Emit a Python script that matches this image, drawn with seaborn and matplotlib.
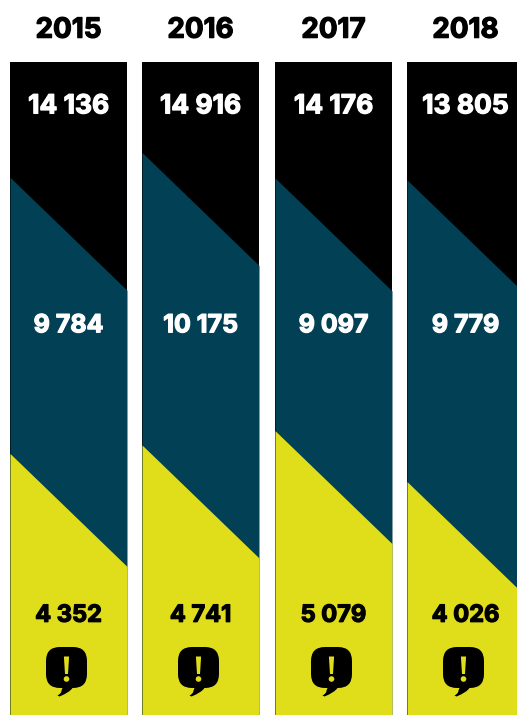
import numpy as np
import pandas as pd
import seaborn as sns
import matplotlib
matplotlib.use("Agg")
import matplotlib.pyplot as plt
import matplotlib.patheffects as pe
from matplotlib.path import Path
from matplotlib.patches import PathPatch
from matplotlib.transforms import Affine2D

years = ["2015", "2016", "2017", "2018"]
band_names = ["upper", "middle", "lower"]

# Figures printed on each band
upper_values = [14136, 14916, 14176, 13805]
middle_values = [9784, 10175, 9097, 9779]
lower_values = [4352, 4741, 5079, 4026]

# Height of each band along the column's centre line, in percent of the column
upper_share = [26.3, 22.5, 26.4, 26.7]
middle_share = [42.3, 44.8, 38.7, 46.2]
lower_share = [31.4, 32.7, 34.9, 27.1]

BAND_COLORS = {"upper": "#000000", "middle": "#014055", "lower": "#e0de1a"}
TEXT_COLORS = {"upper": "white", "middle": "white", "lower": "black"}
LABEL_Y = {"upper": 6.8, "middle": 40.4, "lower": 84.8}
LABEL_SIZE = {"upper": 19, "middle": 18, "lower": 17}
SLANT = 17.3  # drop of a band edge across one column, in percent

W, H = 517, 715
COL_LEFT = [10, 142, 275, 407]
COL_WIDTH = 117
COL_TOP, COL_BOTTOM = 62, 715
FONT = "Inter"

sns.set_theme(style="white")
plt.rcParams["font.family"] = [FONT, "DejaVu Sans"]


frame = pd.DataFrame({
    "year": np.repeat(years, 3),
    "band": band_names * 4,
    "share": np.ravel(np.column_stack([upper_share, middle_share, lower_share])),
    "value": np.ravel(np.column_stack([upper_values, middle_values, lower_values])),
})


def group_digits(n):
    return f"{n:,}".replace(",", " ")


def heavy(color, width=0.9):
    return [pe.withStroke(linewidth=width, foreground=color)]


def draw_column(data, **kwargs):
    ax = plt.gca()
    xs = np.array([-0.5, 0.5])
    edges = np.r_[0, np.cumsum(data["share"].to_numpy())]
    for i, row in enumerate(data.itertuples()):
        # Each band runs down to the foot of the column; the next one paints over it
        top = np.zeros(2) if i == 0 else edges[i] + SLANT * xs
        ax.fill_between(xs, top, np.full(2, 100.0), color=BAND_COLORS[row.band], lw=0)
        color = TEXT_COLORS[row.band]
        ax.text(0.0, LABEL_Y[row.band], group_digits(row.value), ha="center",
                va="center", color=color, fontsize=LABEL_SIZE[row.band],
                fontweight="bold", path_effects=heavy(color), zorder=4)


def add_badge(fig, cx, cy):
    """Speech bubble with an exclamation mark, sized in pixels around (cx, cy)."""
    to_px = Affine2D().scale(1, -1).translate(cx, H - cy)
    r = 14
    hw, hh = 20.5, 20.5
    verts = [(-hw + r, -hh), (hw - r, -hh), (hw, -hh), (hw, -hh + r),
             (hw, hh - r), (hw, hh), (hw - r, hh), (6, hh),
             (3, 25), (-7, 29), (-9, 28), (-5, 26), (-5, 23), (-4, hh),
             (-hw + r, hh), (-hw, hh), (-hw, hh - r),
             (-hw, -hh + r), (-hw, -hh), (-hw + r, -hh), (-hw + r, -hh)]
    codes = [Path.MOVETO, Path.LINETO, Path.CURVE3, Path.CURVE3,
             Path.LINETO, Path.CURVE3, Path.CURVE3, Path.LINETO,
             Path.CURVE3, Path.CURVE3, Path.LINETO, Path.CURVE3, Path.CURVE3, Path.LINETO,
             Path.LINETO, Path.CURVE3, Path.CURVE3,
             Path.LINETO, Path.CURVE3, Path.CURVE3, Path.CLOSEPOLY]
    fig.add_artist(PathPatch(Path(verts, codes), fc="black", ec="none",
                             transform=to_px, zorder=5))
    stem = Path([(-2.6, -11), (2.6, -11), (1.5, 6.5), (-1.5, 6.5), (-2.6, -11)],
                [Path.MOVETO, Path.LINETO, Path.LINETO, Path.LINETO, Path.CLOSEPOLY])
    fig.add_artist(PathPatch(stem, fc=BAND_COLORS["lower"], ec="none",
                             transform=to_px, zorder=6))
    dot = Path.circle((0, 11.5), 2.8)
    fig.add_artist(PathPatch(dot, fc=BAND_COLORS["lower"], ec="none",
                             transform=to_px, zorder=6))


grid = sns.FacetGrid(frame, col="year", col_order=years, sharex=True, sharey=True,
                     height=H / 100, aspect=(W / 4) / H)
grid.map_dataframe(draw_column)
grid.figure.set_size_inches(W / 100, H / 100)
grid.figure.set_dpi(100)
grid.set_titles("")
grid.set_axis_labels("", "")

for ax, left, year in zip(grid.axes.flat, COL_LEFT, years):
    ax.set_position([left / W, 1 - COL_BOTTOM / H, COL_WIDTH / W, (COL_BOTTOM - COL_TOP) / H])
    ax.set_xlim(-0.5, 0.5)
    ax.set_ylim(100, 0)
    ax.set_xticks([])
    ax.set_yticks([])
    sns.despine(ax=ax, left=True, bottom=True)
    ax.text(0.0, -4.8, year, ha="center", va="center", color="black",
            fontsize=20, fontweight="bold", clip_on=False, path_effects=heavy("black"))
    add_badge(grid.figure, left + COL_WIDTH / 2 - 2, 667.5)

grid.figure.savefig("out.png", dpi=100, facecolor="white")
